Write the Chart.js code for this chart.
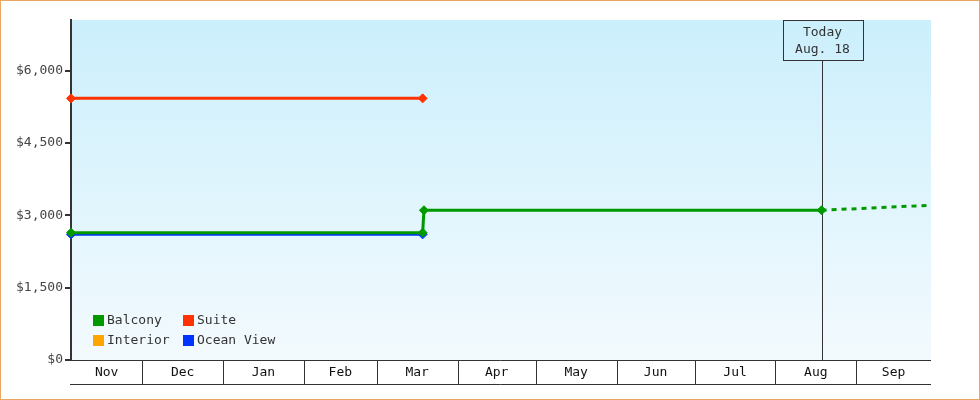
<!DOCTYPE html>
<html><head><meta charset="utf-8">
<style>html,body{margin:0;padding:0;background:#fff;}canvas{display:block;}</style>
<script src="https://cdn.jsdelivr.net/npm/chart.js@4.4.1/dist/chart.umd.min.js"></script>
</head><body><canvas id="c" width="980" height="400"></canvas>
<script>
// x values are day numbers counted from Nov 1
const monthLabels = ['Nov','Dec','Jan','Feb','Mar','Apr','May','Jun','Jul','Aug','Sep'];
const monthStartDays = [0,30,61,92,120,151,181,212,242,273,304];
const axisStartDay = 2.64;
const axisEndDay = 332.7;
const yTickValues = [0,1500,3000,4500,6000];
const yMax = 7050;
const todayDay = 290.7;
const todayLabel = ['Today','Aug. 18'];

const seriesNames = ['Balcony','Suite','Interior','Ocean View'];
const seriesColors = ['#009900','#FF3300','#FFA500','#0033FF'];
const balconyDays = [2.64, 137.6, 138.1, 290.7];
const balconyPrices = [2640, 2640, 3105, 3105];
const suiteDays = [2.64, 137.6];
const suitePrices = [5425, 5425];
const interiorDays = [];
const interiorPrices = [];
const oceanViewDays = [2.64, 137.6];
const oceanViewPrices = [2605, 2605];
const projectionDays = [290.7, 331];
const projectionPrices = [3105, 3205];

const FONT = '"DejaVu Sans Mono", monospace';
const pts = (xs, ys) => xs.map((x, i) => ({x: x, y: ys[i]}));
const allDays = [balconyDays, suiteDays, interiorDays, oceanViewDays];
const allPrices = [balconyPrices, suitePrices, interiorPrices, oceanViewPrices];

const datasets = seriesNames.map((name, i) => ({
  label: name,
  data: pts(allDays[i], allPrices[i]),
  borderColor: seriesColors[i],
  backgroundColor: seriesColors[i],
  borderWidth: 3,
  pointStyle: 'rectRot',
  pointRadius: 4.5,
  pointBorderWidth: 1,
  pointHoverRadius: 4.5,
  fill: false,
  tension: 0,
  clip: false
}));
datasets.push({
  label: 'Balcony projection',
  hideInLegend: true,
  data: pts(projectionDays, projectionPrices),
  borderColor: seriesColors[0],
  borderWidth: 3,
  borderDash: [5,5],
  pointRadius: 0,
  fill: false,
  tension: 0
});

const framePlugin = {
  id: 'frame',
  beforeDraw(chart) {
    const ctx = chart.ctx, a = chart.chartArea;
    ctx.save();
    ctx.fillStyle = '#fff';
    ctx.fillRect(0, 0, chart.width, chart.height);
    const g = ctx.createLinearGradient(0, a.top, 0, a.bottom);
    g.addColorStop(0, '#CBEFFC');
    g.addColorStop(1, '#F3FAFE');
    ctx.fillStyle = g;
    ctx.fillRect(a.left, a.top, a.right - a.left, a.bottom - a.top);
    ctx.strokeStyle = '#E8A862';
    ctx.lineWidth = 1;
    ctx.strokeRect(0.5, 0.5, chart.width - 1, chart.height - 1);
    ctx.restore();
  }
};

const todayPlugin = {
  id: 'today',
  beforeDatasetsDraw(chart) {
    const ctx = chart.ctx, a = chart.chartArea;
    const x = Math.round(chart.scales.x.getPixelForValue(todayDay)) + 0.5;
    const boxTop = a.top, boxH = 40, boxW = 80;
    ctx.save();
    ctx.strokeStyle = '#333';
    ctx.lineWidth = 1;
    ctx.beginPath();
    ctx.moveTo(x, boxTop + boxH);
    ctx.lineTo(x, a.bottom);
    ctx.stroke();
    const bx = Math.round(x - boxW / 2) + 0.5;
    ctx.strokeRect(bx, boxTop + 0.5, boxW, boxH);
    ctx.fillStyle = '#333';
    ctx.font = '13px ' + FONT;
    ctx.textAlign = 'center';
    ctx.textBaseline = 'middle';
    ctx.fillText(todayLabel[0], x, boxTop + 12.5);
    ctx.fillText(todayLabel[1], x, boxTop + 29.5);
    ctx.restore();
  }
};

const xBandPlugin = {
  id: 'xband',
  afterDraw(chart) {
    const ctx = chart.ctx, a = chart.chartArea, sx = chart.scales.x;
    const top = a.bottom, bottom = a.bottom + 25;
    ctx.save();
    ctx.strokeStyle = '#333';
    ctx.lineWidth = 1;
    ctx.beginPath();
    ctx.moveTo(a.left - 1, top + 0.5); ctx.lineTo(a.right, top + 0.5);
    ctx.moveTo(a.left - 1, bottom - 0.5); ctx.lineTo(a.right, bottom - 0.5);
    const bounds = [axisStartDay];
    monthStartDays.forEach(d => { if (d > axisStartDay && d < axisEndDay) bounds.push(d); });
    bounds.push(axisEndDay);
    for (let i = 1; i < bounds.length - 1; i++) {
      const px = Math.round(sx.getPixelForValue(bounds[i])) + 0.5;
      ctx.moveTo(px, top); ctx.lineTo(px, bottom);
    }
    ctx.stroke();
    ctx.fillStyle = '#111';
    ctx.font = '13px ' + FONT;
    ctx.textAlign = 'center';
    ctx.textBaseline = 'middle';
    for (let i = 0; i < bounds.length - 1; i++) {
      const mid = (sx.getPixelForValue(bounds[i]) + sx.getPixelForValue(bounds[i + 1])) / 2;
      ctx.fillText(monthLabels[i], mid, top + 13);
    }
    ctx.restore();
  }
};

const legendPlugin = {
  id: 'boxLegend',
  afterDatasetsDraw(chart) {
    const ctx = chart.ctx, a = chart.chartArea;
    const items = chart.data.datasets.filter(d => !d.hideInLegend);
    ctx.save();
    ctx.font = '13px ' + FONT;
    ctx.textBaseline = 'middle';
    ctx.textAlign = 'left';
    items.forEach((d, i) => {
      const col = i % 2, row = Math.floor(i / 2);
      const x = a.left + 22 + col * 90;
      const y = a.bottom - 45 + row * 20;
      ctx.fillStyle = d.borderColor;
      ctx.fillRect(x, y, 11, 11);
      ctx.fillStyle = '#333';
      ctx.fillText(d.label, x + 14, y + 6);
    });
    ctx.restore();
  }
};

new Chart(document.getElementById('c'), {
  type: 'line',
  data: { datasets: datasets },
  plugins: [framePlugin, todayPlugin, xBandPlugin, legendPlugin],
  options: {
    responsive: false,
    animation: false,
    devicePixelRatio: 1,
    layout: { padding: { left: 0, right: 49, top: 20, bottom: 40 } },
    plugins: { legend: { display: false }, tooltip: { enabled: false } },
    scales: {
      x: { type: 'linear', min: axisStartDay, max: axisEndDay, display: false },
      y: {
        min: 0, max: yMax,
        afterBuildTicks(s) { s.ticks = yTickValues.map(v => ({ value: v })); },
        afterFit(s) { s.width = 71; },
        ticks: {
          color: '#444', padding: 2,
          font: { family: FONT, size: 13 },
          callback: v => '$' + Number(v).toLocaleString('en-US')
        },
        grid: { drawOnChartArea: false, color: '#333', lineWidth: 2, tickLength: 6 },
        border: { color: '#333', width: 2 }
      }
    }
  }
});
</script></body></html>
